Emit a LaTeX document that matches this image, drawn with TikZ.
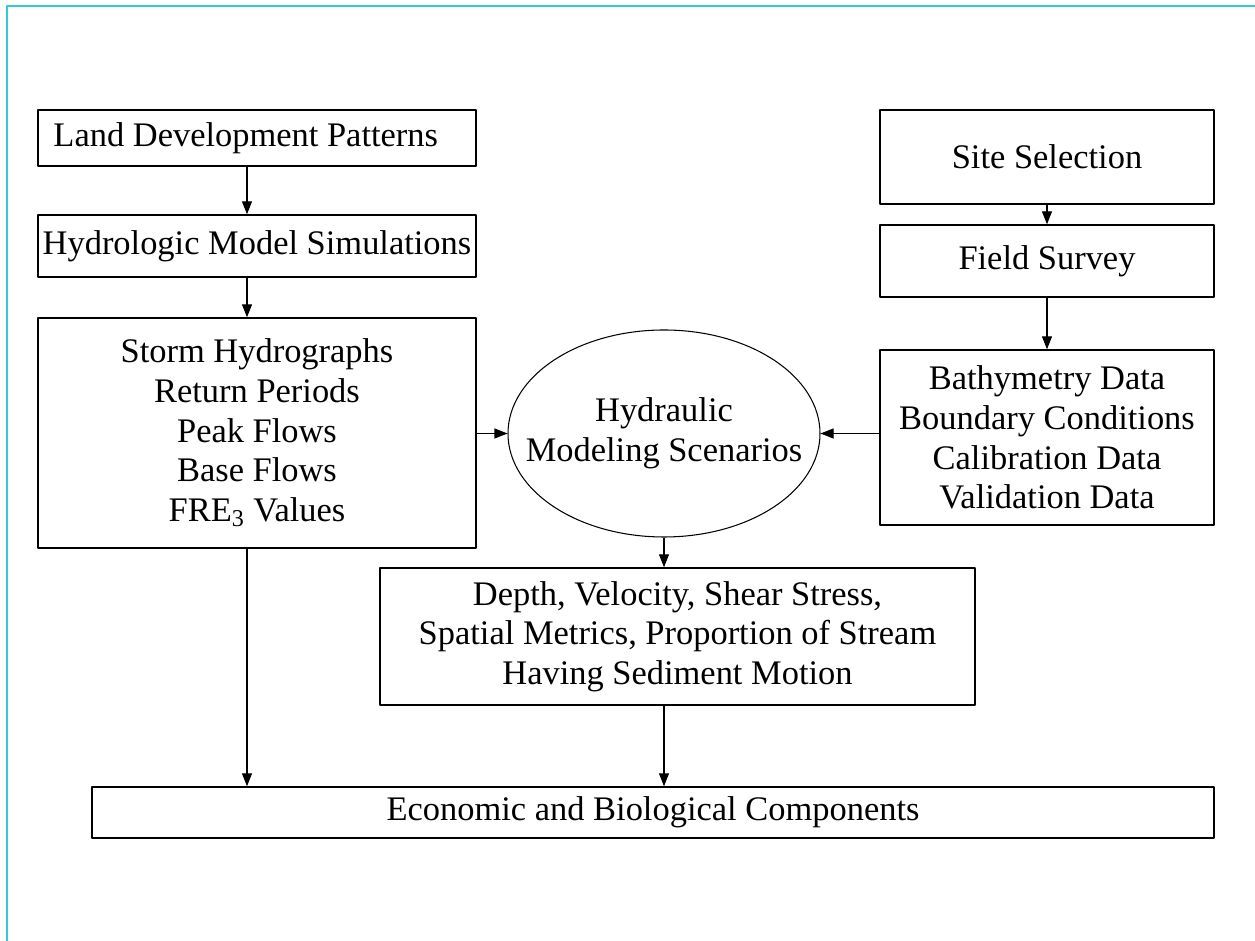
\documentclass[tikz,border=0pt]{standalone}
\usepackage{fontspec}
\setmainfont{Liberation Serif}
\usetikzlibrary{arrows.meta,shapes.geometric}
\definecolor{framecyan}{RGB}{51,204,212}
\begin{document}
\begin{tikzpicture}[>={Triangle[length=0.26cm,width=0.2cm]}, line join=round,
	font=\fontsize{19.6}{22.6}\selectfont,
	box/.style={draw, line width=0.8pt, inner sep=0pt, align=center},
	arr/.style={->, line width=0.6pt}]
				\useasboundingbox (0,0) rectangle (25.1,18.82);
				\draw[framecyan, line width=0.6pt] (25.1,18.70)--(0.14,18.70)--(0.14,0);
				% left column
				\node[box, minimum width=8.76cm, minimum height=1.12cm] (land) at (5.14,16.06) {Land Development Patterns\hspace{0.45cm}};
				\node[box, minimum width=8.76cm, minimum height=1.24cm] (hydro) at (5.14,13.90) {Hydrologic Model Simulations};
				\node[box, minimum width=8.76cm, minimum height=4.60cm] (storm) at (5.14,10.16)
				{Storm Hydrographs\\ Return Periods\\ Peak Flows\\ Base Flows\\ FRE\textsubscript{3} Values};
				% right column
				\node[box, minimum width=6.68cm, minimum height=1.88cm] (site) at (20.94,15.68) {Site Selection};
				\node[box, minimum width=6.68cm, minimum height=1.44cm] (field) at (20.94,13.60) {Field Survey};
				\node[box, minimum width=6.68cm, minimum height=3.50cm] (bathy) at (20.94,10.07)
				{Bathymetry Data\\ Boundary Conditions\\ Calibration Data\\ Validation Data};
				% middle
				\node[draw, ellipse, line width=0.6pt, inner xsep=-1cm, inner ysep=0pt, align=center,
				minimum width=6.24cm, minimum height=4.14cm] (hydraulic) at (13.28,10.15)
				{Hydraulic\\ Modeling Scenarios};
				\node[box, minimum width=11.9cm, minimum height=2.74cm] (depth) at (13.55,6.09)
				{Depth, Velocity, Shear Stress,\\ Spatial Metrics, Proportion of Stream\\ Having Sediment Motion};
				\node[box, minimum width=22.44cm, minimum height=1.02cm] (econ) at (13.06,2.57) {Economic and Biological Components};
				% connectors
				\draw[arr] ([xshift=-0.2cm]land.south)--([xshift=-0.2cm]hydro.north);
				\draw[arr] ([xshift=-0.2cm]hydro.south)--([xshift=-0.2cm]storm.north);
				\draw[arr] ([xshift=-0.2cm]storm.south)--([xshift=-0.2cm]storm.south |- econ.north);
				\draw[arr] (storm.east |- hydraulic.west)--(hydraulic.west);
				\draw[arr] (site.south)--(field.north);
				\draw[arr] (field.south)--(bathy.north);
				\draw[arr] (bathy.west |- hydraulic.east)--(hydraulic.east);
				\draw[arr] (hydraulic.south)--(hydraulic.south |- depth.north);
				\draw[arr] (hydraulic.south |- depth.south)--(hydraulic.south |- econ.north);
\end{tikzpicture}
\end{document}
